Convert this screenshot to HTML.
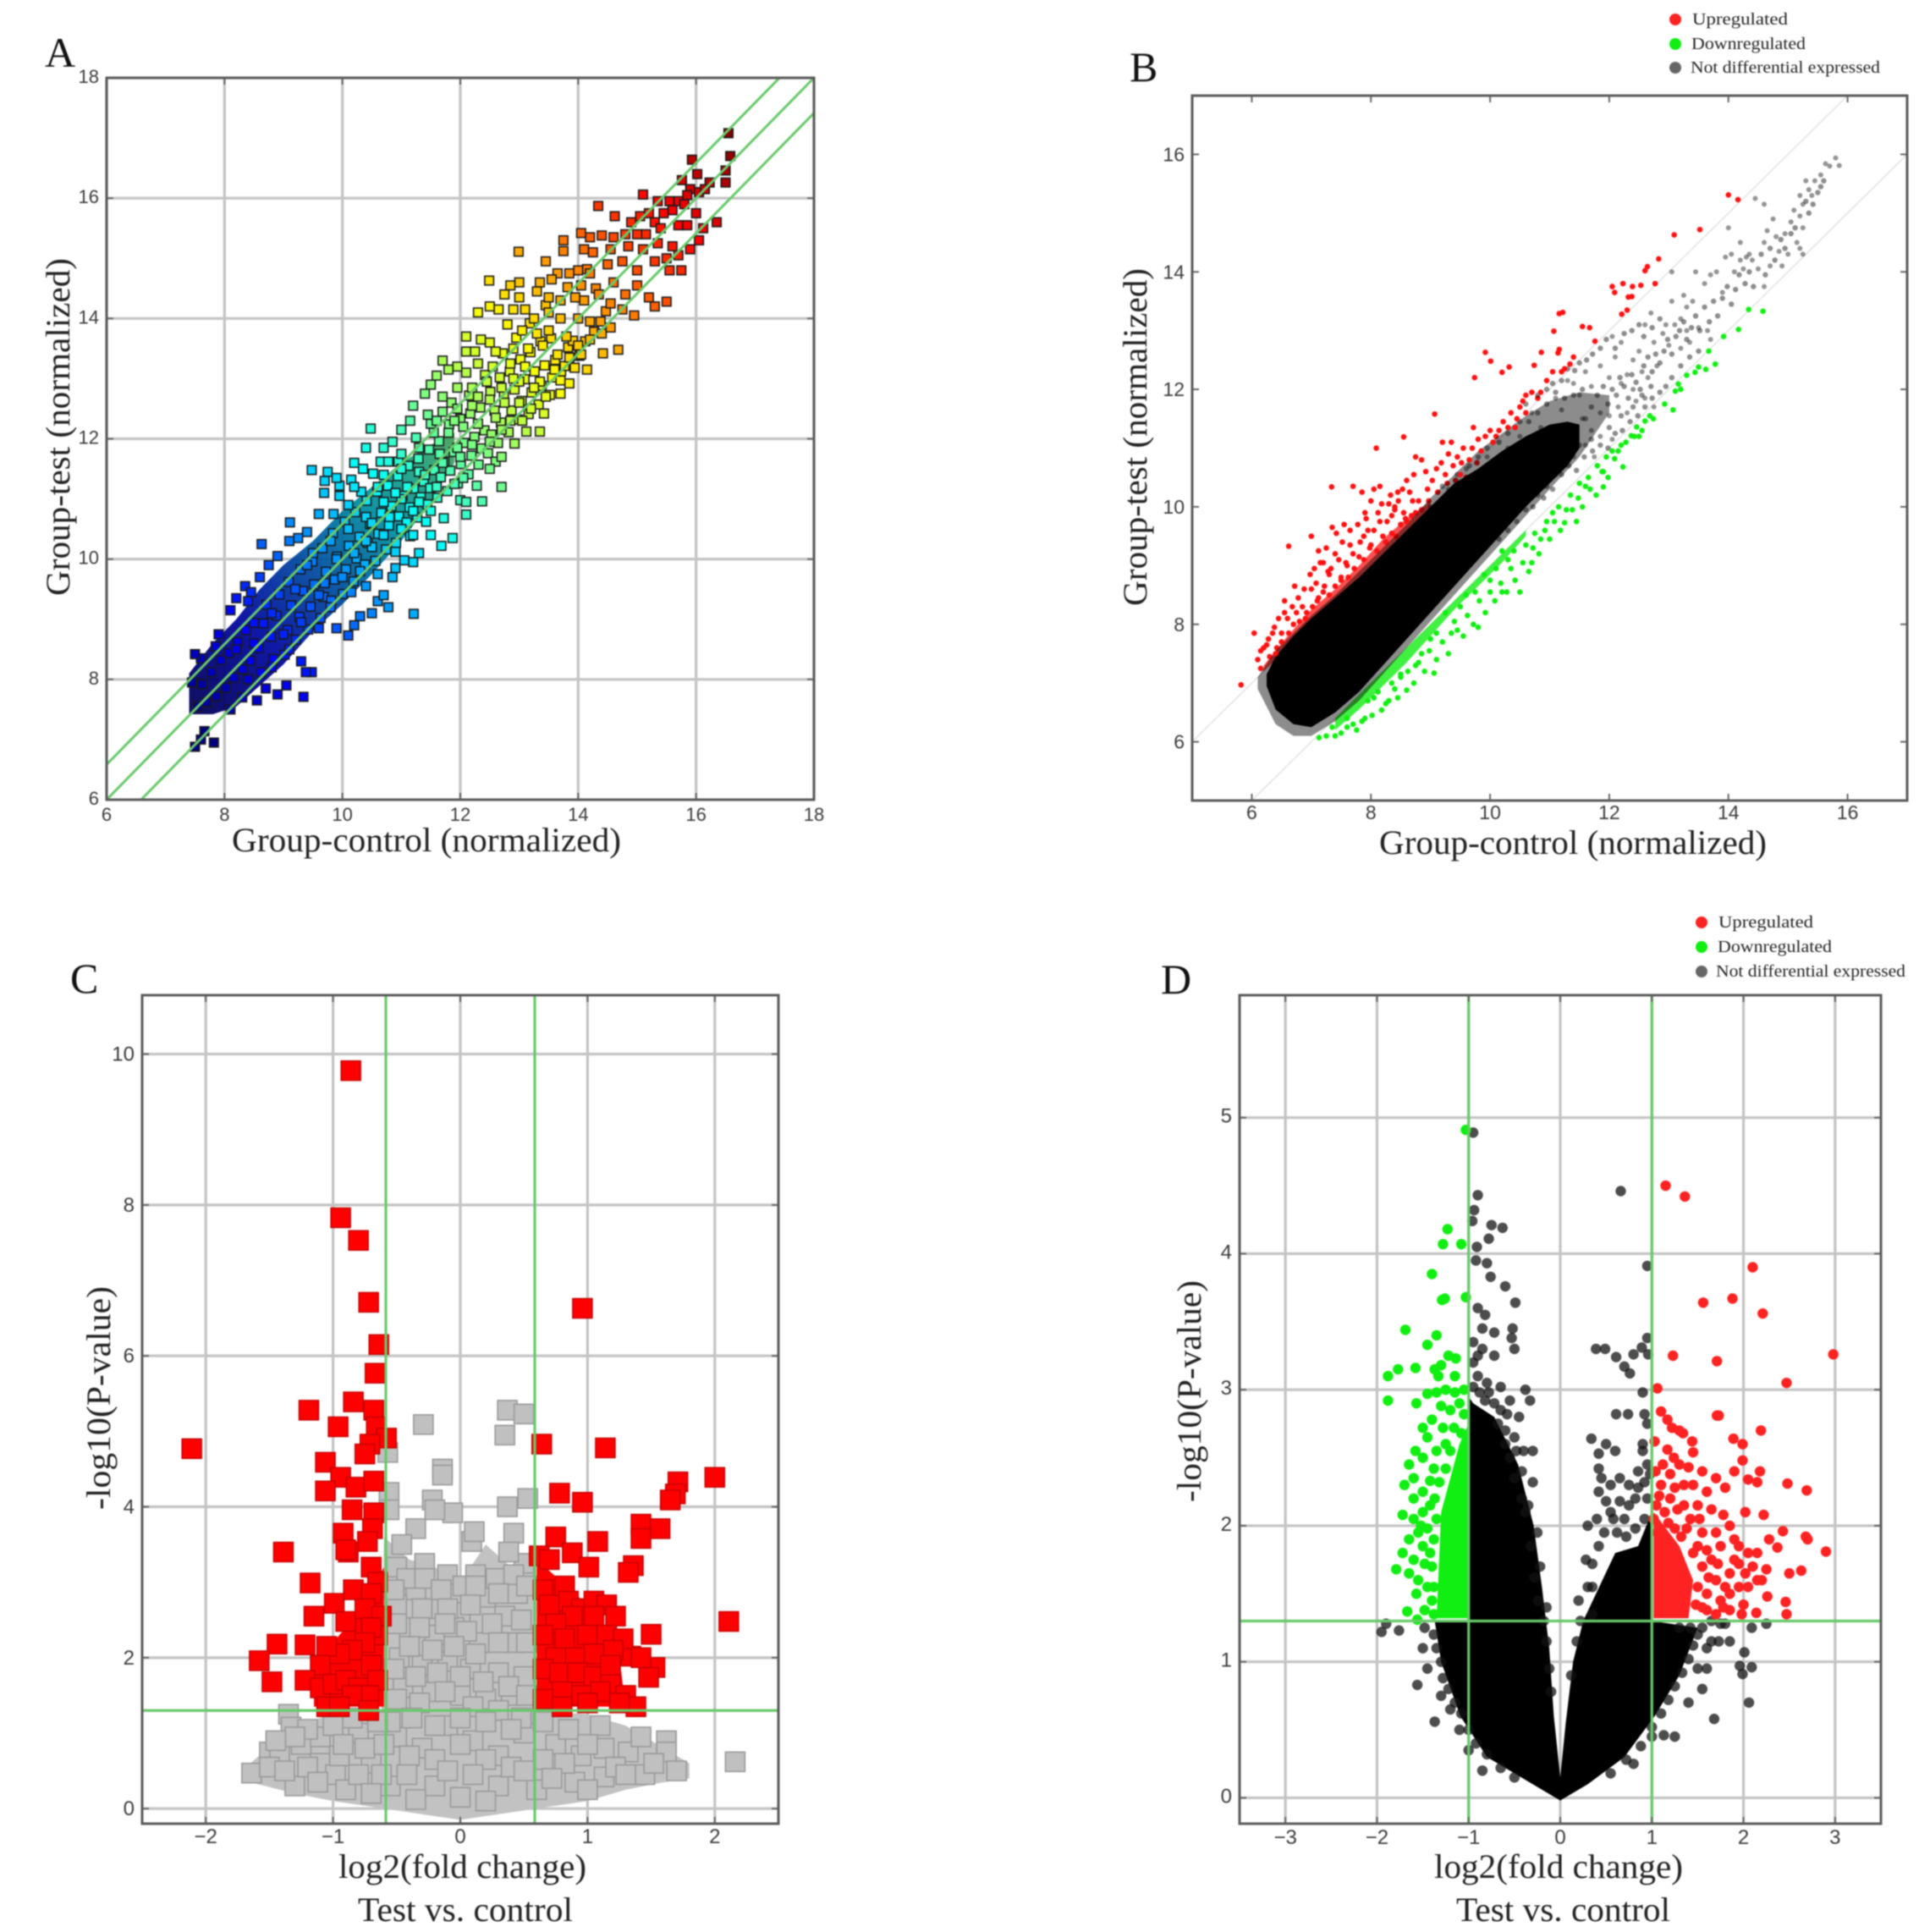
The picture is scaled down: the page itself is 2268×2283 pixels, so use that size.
<!DOCTYPE html>
<html lang="en">
<head>
<meta charset="utf-8">
<title>Scatter and volcano plots</title>
<style>
html,body{margin:0;padding:0;background:#fff;}
#figure{display:block;width:2268px;height:2283px;filter:blur(0.7px);}
.tick{font-family:"Liberation Sans",sans-serif;fill:#3a3a3a;}
.title{font-family:"Liberation Serif",serif;font-size:40px;fill:#222;}
.letter{font-family:"Liberation Serif",serif;font-size:50px;fill:#111;}
.leg{font-family:"Liberation Serif",serif;font-size:20px;fill:#222;}
</style>
</head>
<body>
<svg id="figure" xmlns="http://www.w3.org/2000/svg" width="2268" height="2283" viewBox="0 0 2268 2283">
<rect x="0" y="0" width="2268" height="2283" fill="#fff"/>

<g id="panel-a">
<text class="letter" x="53" y="79">A</text>
<text class="title" x="274" y="1006" textLength="460" lengthAdjust="spacingAndGlyphs">Group-control (normalized)</text>
<text class="title" transform="translate(82,704) rotate(-90)" textLength="399" lengthAdjust="spacingAndGlyphs">Group-test (normalized)</text>
</g>

<g id="panel-b">
<text class="letter" x="1335" y="96">B</text>
<text class="title" x="1630" y="1009" textLength="458" lengthAdjust="spacingAndGlyphs">Group-control (normalized)</text>
<text class="title" transform="translate(1355,716) rotate(-90)" textLength="399" lengthAdjust="spacingAndGlyphs">Group-test (normalized)</text>
<g>
<circle cx="1980" cy="23" r="7" fill="#f22"/>
<text class="leg" x="2000" y="29" textLength="113" lengthAdjust="spacingAndGlyphs">Upregulated</text>
<circle cx="1980" cy="52" r="7" fill="#1e1"/>
<text class="leg" x="1999" y="58" textLength="135" lengthAdjust="spacingAndGlyphs">Downregulated</text>
<circle cx="1980" cy="80" r="7" fill="#666"/>
<text class="leg" x="1998" y="86" textLength="224" lengthAdjust="spacingAndGlyphs">Not differential expressed</text>
</g>
</g>

<g id="panel-c">
<text class="letter" x="83" y="1173">C</text>
<text class="title" x="400" y="2219" textLength="293" lengthAdjust="spacingAndGlyphs">log2(fold change)</text>
<text class="title" x="423" y="2270" textLength="254" lengthAdjust="spacingAndGlyphs">Test vs. control</text>
<text class="title" transform="translate(130,1784) rotate(-90)" textLength="264" lengthAdjust="spacingAndGlyphs">-log10(P-value)</text>
</g>

<g id="panel-d">
<text class="letter" x="1372" y="1174">D</text>
<text class="title" x="1695" y="2219" textLength="294" lengthAdjust="spacingAndGlyphs">log2(fold change)</text>
<text class="title" x="1721" y="2270" textLength="253" lengthAdjust="spacingAndGlyphs">Test vs. control</text>
<text class="title" transform="translate(1419,1775) rotate(-90)" textLength="262" lengthAdjust="spacingAndGlyphs">-log10(P-value)</text>
<g>
<circle cx="2011" cy="1090" r="7" fill="#f22"/>
<text class="leg" x="2031" y="1096" textLength="112" lengthAdjust="spacingAndGlyphs">Upregulated</text>
<circle cx="2011" cy="1119" r="7" fill="#1e1"/>
<text class="leg" x="2030" y="1125" textLength="135" lengthAdjust="spacingAndGlyphs">Downregulated</text>
<circle cx="2011" cy="1148" r="7" fill="#666"/>
<text class="leg" x="2028" y="1154" textLength="224" lengthAdjust="spacingAndGlyphs">Not differential expressed</text>
</g>
</g>
</svg>

<script>
// ---------- shared tick values ----------
const aTicks=[6,8,10,12,14,16,18];
const bTicks=[6,8,10,12,14,16];
const cXTicks=[-2,-1,0,1,2];
const cYTicks=[0,2,4,6,8,10];
const dXTicks=[-3,-2,-1,0,1,2,3];
const dYTicks=[0,1,2,3,4,5];

// ---------- panel A ----------
const aFoldOffsets=[0.585,0,-0.585];
const aBandX=[7.4,7.8,8.2,8.6,9,9.5,10,10.5,11,11.5,11.9];
const aBandHi=[8.1,8.6,9,9.5,9.9,10.3,10.8,11.2,11.6,11.9,12.1];
const aBandLo=[7.42,7.42,7.55,7.9,8.25,8.8,9.25,9.75,10.3,10.95,11.6];
const aDense=[[7.55,7.55],[7.62,7.92],[7.7,7.62],[7.78,8.12],[7.86,7.72],[7.94,8.32],[8.02,7.86],[8.08,8.44],[8.16,8.03],[8.22,8.62],[8.31,8.17],[8.36,8.82],[8.44,8.31],[8.5,8.94],[8.62,8.12],[8.58,8.52],[8.66,8.93],[8.71,9.24],[8.83,8.34],[8.79,8.71],[8.88,9.06],[8.93,9.41],[9.02,8.41],[9.07,8.82],[9.13,9.23],[9.09,9.62],[9.21,8.66],[9.27,9.04],[9.33,9.47],[9.29,9.83],[9.42,8.83],[9.46,9.21],[9.52,9.58],[9.49,9.96],[9.63,9.02],[9.68,9.37],[9.72,9.79],[9.66,10.18],[9.81,9.31],[9.87,9.66],[9.91,10.04],[9.84,10.43],[10.01,9.42],[10.06,9.83],[10.11,10.22],[10.04,10.62],[10.19,9.63],[10.24,10.01],[10.29,10.37],[10.22,10.78],[10.38,9.91],[10.43,10.27],[10.47,10.58],[10.41,10.97],[10.56,9.97],[10.61,10.42],[10.66,10.77],[10.59,11.12],[10.74,10.16],[10.79,10.56],[10.83,10.88],[10.77,11.22],[10.91,10.27],[10.96,10.71],[11.02,11.05],[10.94,11.38],[11.09,10.61],[11.14,10.86],[11.21,11.17],[11.12,11.55],[11.27,10.69],[11.33,11.03],[11.38,11.29],[11.29,11.67],[11.44,10.91],[11.49,11.18],[11.56,11.48],[11.47,11.82],[11.61,11.02],[11.67,11.36],[11.73,11.62],[11.64,11.96],[11.78,11.13],[11.83,11.47],[11.89,11.78],[11.81,12.24],[11.96,11.26],[12.01,11.58],[12.07,11.93],[12,12.33],[12.14,11.41],[12.19,11.72],[12.24,12.03],[12.17,12.42],[12.31,11.57],[12.36,11.84],[12.41,12.14],[12.34,12.52],[12.47,11.76],[12.53,12.07],[12.58,12.47],[12.51,12.78],[12.64,11.93],[12.69,12.27],[12.74,12.73],[12.67,13.02],[12.82,12.11],[12.87,12.47],[12.92,12.82],[12.84,13.12],[12.98,12.32],[13.04,12.63],[13.09,12.99],[13.02,13.32],[13.16,12.41],[13.21,12.77],[13.26,13.12],[13.19,13.44],[13.33,12.57],[13.38,12.88],[13.43,13.22],[13.36,13.62],[13.52,12.73],[13.56,13.02],[13.61,13.31],[13.54,13.67],[13.71,13.12],[13.77,13.21],[13.83,13.52],[13.94,13.18],[14.02,13.38],[13.91,13.63],[14.12,13.62],[14.27,13.78],[14.38,13.95],[14.47,14.12],[10.65,11.62],[10.95,11.62],[11.25,12.02],[11.5,12.25],[11.85,12.6],[12.15,12.72],[12.42,13.06],[12.72,13.42],[12.95,13.68],[13.18,13.92],[13.45,14.22],[13.82,14.52],[14.15,14.82],[10.9,10.12],[11.15,10.38],[11.42,10.62],[11.72,10.68],[12,10.98],[12.28,11.22],[12.6,11.62],[12.92,11.92],[13.12,12.12],[13.42,12.42],[13.85,12.92],[14.15,13.15],[14.42,13.42],[9.95,11.22],[10.15,11.32],[10.32,11.12],[10.52,11.42],[10.78,11.62]];
const aPoints=[[16.55,17.08],[15.93,16.64],[16.58,16.7],[16.02,16.4],[16.5,16.46],[16.23,16.26],[16.5,16.26],[15.1,16.06],[14.34,15.87],[14.62,15.7],[16.35,15.6],[15.76,16.3],[15.9,16.15],[16.05,16.1],[15.85,16.05],[16.15,16.15],[15.7,15.95],[15.55,15.95],[15.35,15.95],[15.6,15.8],[15.8,15.9],[15.45,15.75],[15.2,15.75],[15.05,15.7],[14.9,15.6],[15.3,15.6],[15.4,15.5],[15.7,15.55],[15.85,15.55],[16,15.75],[16.12,15.5],[15.15,15.4],[15,15.4],[14.8,15.4],[14.6,15.35],[14.4,15.38],[14.2,15.35],[14.05,15.42],[13.75,15.3],[13.75,15.12],[14.1,15.15],[14.25,15.1],[14.55,15.15],[14.85,15.2],[15.1,15.15],[15.35,15.25],[15.6,15.2],[15.9,15.15],[16.05,15.3],[15.5,15],[15.7,15.05],[15.75,14.8],[15.55,14.8],[15.3,14.95],[15,14.8],[14.75,14.95],[14.5,14.9],[14.2,14.75],[14,14.8],[13.85,14.75],[13.65,14.75],[13.45,14.95],[13.55,14.65],[13.35,14.6],[14.05,14.55],[14.3,14.5],[14.6,14.6],[14.8,14.4],[15,14.55],[15.2,14.35],[15.5,14.28],[15.3,14.2],[14.95,14.05],[14.75,14.15],[14.55,14.25],[14.35,14.4],[14.1,14.3],[13.95,14.35],[13.7,14.3],[13.5,14.35],[13.3,14.45],[13,14.6],[12.85,14.55],[12.75,14.4],[13,14.35],[12.9,14.15],[13.1,14.15],[12.65,14.15],[12.3,14.1],[12.5,14.2],[12.99,15.11],[12.49,14.63],[13.25,14],[13.5,14.1],[13.7,14],[14,14],[14.2,13.95],[14.4,13.75],[14.55,13.85],[14.68,13.48],[14.2,13.65],[14,13.55],[13.8,13.7],[13.5,13.8],[13.3,13.75],[13.05,13.8],[12.8,13.9],[12.5,13.6],[12.35,13.65],[12.1,13.7],[12.1,13.45],[12.25,13.45],[12.6,13.45],[12.9,13.5],[13.15,13.5],[13.4,13.55],[13.65,13.4],[13.85,13.35],[14.05,13.4],[13.6,13.15],[13.7,12.97],[13.7,12.75],[13.35,12.95],[13.1,13.2],[12.85,13.25],[12.55,13.2],[12.3,13.25],[12.1,13.1],[11.95,13.2],[11.7,13.3],[11.8,13.15],[11.6,13.05],[11.5,12.9],[11.4,12.75],[11.7,12.7],[11.95,12.85],[12.2,12.85],[12.45,12.95],[12.7,12.85],[13,12.95],[13.25,12.85],[13.45,12.7],[13.2,12.5],[13,12.6],[12.75,12.6],[12.5,12.65],[12.2,12.55],[11.95,12.5],[11.7,12.45],[11.45,12.4],[11.2,12.55],[11.15,12.3],[11,12.15],[10.85,11.95],[10.7,11.85],[10.48,12.17],[10.4,11.85],[10.2,11.6],[11,11.75],[11.3,11.85],[11.55,12.1],[11.8,12.1],[12.05,12.2],[12.3,12.25],[12.6,12.35],[12.85,12.3],[13.05,12.3],[13.35,12.12],[12.7,12.15],[12.5,11.95],[12.2,11.9],[11.95,11.85],[11.65,11.75],[12.7,11.7],[12.5,11.5],[12.7,11.2],[12.37,10.96],[12.1,10.95],[12.1,10.74],[12.05,11.35],[11.9,11.25],[11.6,11.2],[11.3,11.45],[11,11.5],[10.7,11.4],[10.35,11.5],[10.2,11.2],[9.48,11.48],[9.75,11.45],[9.7,11.3],[9.9,11.35],[9.69,11.1],[9.95,11.05],[10.1,10.9],[9.85,10.75],[9.6,10.75],[9.4,10.45],[9.11,10.61],[9.25,10.35],[9.1,10.3],[8.9,10.05],[8.63,10.25],[8.75,9.9],[9.5,10.1],[9.8,10.3],[10.1,10.5],[10.4,10.7],[10.7,10.95],[11,11],[11.3,10.95],[11.5,10.8],[11.87,10.35],[11.68,10.22],[11.5,10.4],[11.2,10.4],[11,10.5],[10.7,10.4],[10.5,10.2],[11.3,10.1],[11.2,9.95],[11.05,9.98],[10.9,9.85],[10.85,9.7],[10.6,9.75],[10.3,9.8],[11.21,9.09],[10.78,9.2],[10.6,9.3],[10.7,9.4],[10.5,9.1],[10.3,9.05],[10.1,8.73],[10.2,8.9],[9.9,8.85],[9.6,8.85],[9.8,9.2],[10.15,9.45],[10.4,9.55],[9.48,8.12],[9.38,8.12],[9.3,8.3],[9.1,8.5],[9.34,7.71],[9.05,7.9],[8.9,7.75],[8.7,7.85],[8.55,7.65],[8.3,7.7],[8.1,7.5],[8.4,8],[8.8,8.2],[9,8.75],[9.3,8.95],[8.35,9.55],[8.45,9.45],[8.2,9.35],[8.1,9.15],[7.9,8.75],[7.85,8.55],[7.6,8.35],[7.5,8.42],[7.45,7.95],[8.6,9.7],[8.4,9.3],[7.82,6.95],[7.5,6.88],[7.66,7.14],[7.6,7],[8.5,8.6],[8.8,9.1],[9.2,9.5],[9.6,9.4],[9.9,10],[10.2,10.1],[10.5,10.6],[10.8,10.7],[11.1,11.2],[11.4,11.4],[11.7,11.6],[12,11.7],[8.2,8.5],[9.4,9.9],[10,9.7],[10.4,10.3],[10.9,11.1],[11.2,10.8],[11.6,12.3],[12.3,12.7],[12.9,13],[11.9,12.3],[10.6,11.2],[9.7,9.6]];

// ---------- panel B ----------
const bCoreX=[6.25,6.4,6.7,7,7.4,7.8,8.2,8.6,9,9.4,9.8,10.2,10.6,11,11.3,11.5];
const bCoreLo=[6.95,6.55,6.3,6.25,6.5,6.85,7.3,7.75,8.2,8.65,9.1,9.55,10,10.4,10.7,11];
const bCoreHi=[7.15,7.45,7.8,8.1,8.45,8.8,9.2,9.6,10,10.4,10.65,10.95,11.2,11.4,11.45,11.4];
const bHaloX=[6.1,6.4,6.7,7,7.4,7.8,8.2,8.6,9,9.4,9.8,10.2,10.6,11,11.5,12];
const bHaloLo=[6.9,6.3,6.1,6.1,6.35,6.7,7.15,7.6,8.05,8.5,8.95,9.4,9.85,10.3,10.85,11.6];
const bHaloHi=[7.1,7.55,7.85,8.15,8.5,8.9,9.3,9.7,10.15,10.55,10.95,11.25,11.55,11.8,11.95,11.9];
const bRedBandX=[6.2,6.6,7,7.4,7.8,8.2,8.6,9];
const bRedBandLo=[7.2,7.6,8,8.4,8.8,9.2,9.6,10];
const bRedBandHi=[7.3,7.8,8.25,8.6,9,9.45,9.8,10.1];
const bGreenBandX=[7.4,7.8,8.2,8.6,9,9.4,9.8,10.2,10.6];
const bGreenBandLo=[6.2,6.55,6.95,7.35,7.8,8.25,8.65,9.05,9.5];
const bGreenBandHi=[6.4,6.8,7.2,7.6,8,8.4,8.8,9.2,9.6];
const bUpDense=[[6.15,7.25],[6.2,7.6],[6.28,7.75],[6.3,7.45],[6.38,7.95],[6.42,7.6],[6.5,7.85],[6.55,8.2],[6.62,7.85],[6.68,8.3],[6.7,8],[6.78,8.45],[6.8,8.05],[6.88,8.6],[6.92,8.2],[6.98,8.85],[7.02,8.3],[7.08,8.7],[7.12,8.45],[7.15,9.05],[7.22,8.65],[7.25,9.3],[7.3,8.5],[7.33,8.95],[7.4,8.65],[7.42,9.55],[7.46,9.1],[7.5,8.8],[7.52,9.4],[7.58,9.05],[7.62,8.8],[7.65,9.6],[7.7,9.2],[7.72,8.95],[7.78,9.7],[7.82,9.4],[7.88,9.1],[7.92,9.8],[7.98,9.3],[8,10.1],[8.05,9.6],[8.1,9.25],[8.12,9.9],[8.18,10.05],[8.25,9.4],[8.27,9.75],[8.33,10.2],[8.35,9.85],[8.42,9.5],[8.46,10.1],[8.5,9.7],[8.53,10.3],[8.58,9.8],[8.65,10.25],[8.68,9.85],[8.72,10.55],[8.8,10.1],[8.85,9.95],[8.92,10.6],[8.97,10.1],[9.03,10.45],[9.12,10.25],[9.18,10.75],[9.28,10.4],[9.38,10.7],[9.42,10.45],[9.52,10.75],[9.6,10.5],[9.7,11],[9.78,10.75],[9.92,11.2],[10.1,11.2],[10.22,11.45],[10.35,11.6],[10.6,11.9],[10.8,11.85],[7.28,8.9],[7.88,9.5],[8.4,9.95],[8.75,9.9]];
const bDownDense=[[7.25,6.1],[7.35,6.25],[7.5,6.15],[7.6,6.4],[7.7,6.3],[7.85,6.35],[7.95,6.7],[8.02,6.45],[8.12,6.85],[8.25,6.65],[8.35,7],[8.45,6.75],[8.5,7.1],[8.62,7.2],[8.72,7],[8.8,7.35],[8.9,7.2],[8.98,7.55],[9.1,7.4],[9.2,7.7],[9.3,7.5],[9.35,7.85],[9.45,7.9],[9.55,7.8],[9.62,8.15],[9.72,8],[9.82,8.4],[9.92,8.2],[10,8.55],[10.08,8.4],[10.18,8.7],[10.28,8.55],[10.35,8.95],[10.42,8.75],[10.55,9.05],[10.65,8.9],[10.72,9.3],[10.82,9.2],[10.92,9.6],[11,9.45],[11.08,9.75],[11.18,9.6],[11.28,9.95],[11.38,9.95],[11.48,10.15],[11.55,10],[11.68,10.3],[11.78,10.2],[11.88,10.6],[11.98,10.5],[12.15,10.95],[12.28,11.1],[12.42,11.2],[12.55,11.3],[12.68,11.55]];
const bNotDense=[[10.6,11.75],[10.8,11.9],[10.95,12],[11.05,12.1],[11.2,12.15],[11.3,12.35],[11.42,12.32],[11.5,12.45],[11.62,12.5],[11.72,12.6],[11.85,12.7],[11.95,12.85],[12.1,12.7],[12.25,12.95],[12.38,13],[12.5,13.1],[12.58,12.9],[12.72,13.05],[12.85,13.2],[10.72,10.0],[10.9,10.15],[11.05,10.3],[11.2,10.55],[11.32,10.7],[11.45,10.62],[11.58,10.85],[11.72,10.95],[11.85,11.05],[11.98,11.0],[12.1,11.25],[12.22,11.3],[12.35,11.45],[12.48,11.55],[12.6,11.7],[12.72,11.85],[12.85,11.95],[12.95,12.05],[13.05,12.2],[13.2,12.4],[13.35,12.55],[13.5,12.65],[11.6,11.5],[11.7,11.7],[11.8,11.9],[11.9,12.05],[11.98,11.75],[12.05,12],[12.12,11.9],[12.18,12.2],[12.25,12.05],[12.32,11.85],[12.38,12.25],[12.45,12.12],[12.52,12],[12.58,12.4],[12.65,12.55],[12.72,12.3],[12.78,12.6],[12.85,12.45],[12.92,12.65],[12.98,12.85],[13.05,12.6],[13.12,12.9],[13.18,13],[13.25,13.15],[13.3,12.85],[13.38,13.05],[13.45,13.25],[13.52,13],[13.6,13.4],[13.68,13.15],[13.75,13.5],[13.82,13.25],[13.9,13.55],[13.98,13.75],[14.05,13.45],[14.12,13.7],[14.18,13.95],[14.28,13.8],[14.35,14],[14.42,13.75],[14.55,14.3],[14.62,13.95],[14.7,14.4],[14.78,14.2],[14.88,14.55],[14.95,14.4],[15.05,14.65],[15.12,14.75],[15.3,15.2],[15.35,15],[15.42,15.15],[15.5,15.35],[15.55,15.45],[15.6,15.55],[11.55,12],[11.4,11.9],[11.25,11.85],[11.1,11.95],[10.95,11.75],[10.8,11.6],[10.65,11.45],[10.5,11.45],[10.3,11.25],[10.15,11.1],[9.95,11],[9.8,10.85],[9.65,10.7],[9.45,10.55],[9.2,10.35],[11.7,11.15],[11.5,11.05],[11.3,10.85],[11.1,10.55],[10.95,10.35],[10.8,10.2],[10.6,9.95],[10.45,9.75],[10.3,9.6],[10.15,9.45],[12,11.35],[12.2,11.55],[12.4,11.7],[12.55,11.9],[12.7,12.05]];
const bUp=[[5.82,6.97],[6.04,7.85],[6.62,9.33],[7.34,10.34],[8.09,11],[8.55,11.19],[9.07,11.58],[9.92,12.63],[10.01,12.48],[9.74,12.2],[10.2,12.29],[10.32,12.38],[10.86,12.63],[10.74,12.41],[11.07,12.99],[11.16,13.29],[11.22,13.31],[11.55,13.07],[11.67,13.05],[11.76,12.82],[11.16,12.68],[11.14,12.62],[11.34,12.43],[11.2,12.3],[12.05,13.75],[12.09,13.65],[12.23,13.8],[12.39,13.75],[12.53,13.77],[12.77,13.8],[12.32,13.57],[12.38,13.58],[12.21,13.28],[12.3,13.35],[12.6,14.02],[12.64,14.09],[12.83,14.22],[13.09,14.63],[13.52,14.72],[14,15.31],[14.16,15.23],[6.1,7.4],[6.15,7.55],[6.25,7.65],[6.35,7.85],[6.45,8.1],[6.6,8.1],[6.55,8.4],[6.75,8.2],[6.72,8.65],[6.85,8.3],[7,8.6],[7,9.5],[7.12,9.25],[7.05,8.95],[7.2,9.05],[7.2,8.55],[7.3,8.85],[7.4,9.2],[7.35,9.65],[7.55,9.7],[7.65,9.35],[7.7,10.35],[7.85,10.25],[7.9,9.9],[8.05,10.3],[8.15,10.35],[7.95,9.6],[8.15,9.75],[8.3,10.05],[8.4,10],[8.45,10.25],[8.2,9.5],[8.55,9.9],[8.6,10.45],[8.75,10.85],[8.85,10.8],[8.7,10.1],[8.95,10.3],[9.1,10.65],[9.2,11.1],[9.3,10.9],[9.35,11.1],[9.25,10.55],[9.45,10.85],[9.5,10.55],[9.55,11],[9.65,10.8],[9.8,11.15],[9.85,10.95],[9.72,11.35],[10,11.3],[10.15,11.3],[10.3,11.35],[10.05,11.1],[10.45,11.5],[10.5,11.7],[10.55,11.8],[10.42,11.35],[10.7,11.95],[10.85,11.95],[10.95,12.15],[10.6,11.6],[11.05,12.3],[11.25,12.35],[11.4,12.55],[6.4,7.5],[6.9,8.1],[7.5,8.75],[8,9.35],[8.35,9.55],[8.6,9.75],[7.1,8.4],[7.6,9],[7.8,9.15],[6.5,7.7]];
const bDown=[[14.58,13.33],[14.34,13.36],[14.17,13.02],[13.92,12.9],[13.78,12.43],[13.62,12.34],[13.5,12.38],[13.67,12.65],[13.44,12.29],[13.3,12.24],[13.16,12.09],[13.11,11.97],[13.2,12],[12.93,11.75],[13.07,11.65],[12.74,11.5],[12.6,11.46],[12.46,11.36],[12.37,11.21],[12.23,10.68],[12.09,10.82],[11.9,10.34],[11.6,10.35],[11.25,9.73],[10.5,8.55],[9.8,7.95],[9.06,7.17],[8.6,6.88],[8.18,6.54],[7.76,6.2],[7.13,6.07],[12.2,11.05],[12.05,10.95],[11.95,10.85],[11.8,10.7],[11.65,10.5],[11.5,10.4],[11.35,10.2],[11.15,10],[11.05,9.9],[10.95,9.75],[10.75,9.55],[10.85,9.45],[10.6,9.35],[10.4,9.25],[10.3,9.1],[10.2,9.25],[10.1,8.95],[10,8.75],[9.9,8.85],[9.75,8.55],[9.6,8.5],[9.5,8.3],[9.4,8.05],[9.25,8.2],[9.1,7.85],[9,7.75],[8.85,7.5],[8.75,7.3],[8.5,7.15],[8.4,6.9],[8.3,6.7],[8.05,6.75],[7.9,6.4],[7.6,6.25],[7.4,6.1],[11.45,9.75],[11.9,10.6],[12.5,11.2],[10.7,9.05],[10.2,8.55]];
const bNot=[[15.86,15.81],[15.8,15.94],[15.63,15.84],[15.7,15.8],[15.55,15.65],[15.45,15.55],[15.35,15.4],[15.3,15.55],[15.2,15.3],[15.1,15.05],[15.25,15.15],[15.4,15.3],[15.2,14.95],[15.25,14.75],[15.15,14.5],[15.2,14.4],[15.25,14.3],[14.95,14.65],[14.8,14.6],[14.65,14.7],[14.85,14.35],[14.9,14.1],[14.7,14.1],[14.5,14.05],[14.6,13.75],[14.4,14.2],[14.3,14.25],[14.2,14.5],[14,14.75],[14.45,15.25],[14.6,15.15],[14.75,14.9],[15.05,14.85],[14.1,14],[13.9,13.65],[13.8,14],[13.7,13.95],[13.6,13.8],[13.45,14],[13.4,13.5],[13.3,13.4],[13.2,13.2],[13.25,13.6],[13.05,13.5],[13.05,14],[13.1,13.1],[12.95,13.1],[12.9,12.95],[13,12.75],[12.75,12.8],[13.65,13],[13.5,13.05],[13.7,12.85],[13.35,12.8],[13.2,12.7],[13.3,13],[12.7,13.3],[12.6,13.1],[12.5,12.65],[12.4,12.5],[12.55,12.3],[12.2,12.8],[12.1,12.55],[12.05,12.9],[12,12.2],[12.2,12.1],[12.3,12.25],[12.4,12],[12.65,12.2],[12.8,12.4],[12.6,11.85],[12.75,11.7],[12.45,11.8],[12.3,11.6],[12.15,11.7],[12,11.55],[11.85,11.6],[11.85,12.4],[11.7,12.05],[11.6,12.3],[11.5,11.9],[11.55,11.5],[11.7,11.3],[11.4,12.1],[11.3,12.15],[11.2,11.65],[11.1,11.85],[11.35,11.25],[11.6,11.05],[11.85,11.2],[12.05,11.15],[11.15,10.75],[10.9,10.6],[11.4,10.85],[10.7,11.6],[10.85,11.35],[10.5,11.2],[10.3,11],[9.95,10.85],[9.6,10.65],[9.3,10.3],[9,10],[11.75,10.85],[14.2,14.2],[14.35,14.3],[14.25,14.05],[14.05,14.3],[13.95,14.25],[15,14.3],[14.6,14.5]];

// ---------- panel C ----------
const cGreyOutlineX=[-1.65,-1.3,-1,-0.62,-0.6,-0.4,-0.2,0,0.2,0.4,0.58,0.6,1,1.3,1.6,1.8,1.8,1.6,1.3,1,0.6,0,-0.6,-1,-1.3,-1.65];
const cGreyOutlineY=[0.6,1.1,1.25,1.3,3.6,3.3,3.2,3,3.5,3.2,3.3,1.3,1.25,1.1,0.8,0.6,0.4,0.35,0.25,0.1,0,-0.15,0,0.1,0.2,0.35];
const cRedLeftX=[-1.15,-0.6,-0.6,-0.8,-1.15];
const cRedLeftY=[1.35,1.35,3.2,2.6,1.9];
const cRedRightX=[0.6,1.3,1.25,1,0.8,0.6];
const cRedRightY=[1.35,1.35,2,2.7,3,3.3];
const cUp=[[-0.86,9.78],[-0.94,7.83],[-0.8,7.53],[-0.72,6.71],[-0.64,6.15],[-0.67,5.77],[-0.84,5.39],[-1.19,5.28],[-0.68,5.28],[-0.66,5.06],[-0.96,5.06],[-0.58,4.91],[-2.11,4.77],[-0.71,4.83],[-0.75,4.7],[-1.06,4.59],[-0.94,4.39],[-1.06,4.21],[-0.82,4.26],[-0.68,4.34],[-0.85,3.96],[-0.68,3.92],[-0.69,3.71],[-0.92,3.65],[-0.73,3.54],[-0.88,3.4],[-1.39,3.4],[-0.7,3.2],[-1.18,2.99],[-0.9,3.43],[-0.65,3],[-0.65,2.3],[0.96,6.63],[0.64,4.83],[1.14,4.78],[0.78,4.18],[0.96,4.06],[2,4.39],[1.71,4.33],[1.69,4.17],[1.65,4.09],[1.42,3.77],[1.57,3.71],[1.42,3.58],[1.08,3.54],[0.75,3.6],[0.88,3.39],[1.36,3.22],[1.32,3.13],[1.01,3.2],[2.11,2.48],[1.5,2.31],[1.53,1.87],[1.48,1.74],[1.34,2.02],[-1.44,2.18],[-1.58,1.96],[-1.48,1.68],[-1.15,2.55],[-1.22,2.17],[-0.99,2.72],[-0.9,2.48],[-0.84,2.9],[-0.7,2.85],[-0.75,2.65],[-0.62,2.55],[-0.7,2.4],[-0.75,2.2],[-0.85,2.1],[-0.95,2.05],[-1.05,2.15],[-1.1,1.9],[-1.22,1.7],[-1.1,1.6],[-1,1.65],[-0.9,1.7],[-0.8,1.6],[-0.7,1.9],[-0.65,1.7],[-0.72,1.5],[-0.85,1.5],[-1.05,1.35],[-0.95,1.35],[-0.72,1.3],[0.62,3.35],[0.7,3.3],[0.65,2.9],[0.7,2.7],[0.82,2.95],[0.85,2.75],[0.95,2.65],[1.05,2.75],[1.15,2.7],[1.22,2.55],[1.05,2.55],[0.88,2.55],[0.75,2.45],[0.65,2.3],[0.82,2.25],[1,2.3],[1.15,2.3],[1.28,2.25],[1.2,2.1],[1.05,2.05],[0.9,2],[0.75,2],[0.65,1.85],[0.78,1.8],[0.92,1.8],[1.05,1.75],[1.18,1.65],[1.3,1.5],[1.38,1.35],[1.25,1.4],[1.1,1.55],[0.95,1.5],[0.8,1.55],[0.65,1.45],[0.8,1.35],[1,1.4],[1.42,2],[1.18,1.9]];
const cNot=[[0.37,5.28],[0.5,5.23],[0.35,4.95],[-0.29,5.09],[-0.14,4.5],[-0.14,4.42],[-0.57,4.72],[0.37,4],[0.53,4.11],[0.42,3.65],[-0.06,3.92],[-0.22,4.09],[-0.2,3.96],[-0.56,4.19],[-0.56,3.96],[-0.35,3.71],[-0.46,3.5],[0.09,3.54],[0.11,3.67],[2.16,0.62],[-1.64,0.47],[-0.28,3.25],[-0.1,3.1],[0.12,3.1],[0.5,3.25],[0.38,3.4],[0.45,2.85],[-0.35,2.9],[-0.5,2.7],[-0.2,2.65],[0,2.6],[0.2,2.8],[0.35,2.55],[-0.4,2.4],[-0.2,2.3],[-0.05,2.4],[0.15,2.2],[0.42,2.2],[-0.48,2],[-0.3,1.9],[-0.1,1.95],[0.08,1.85],[0.3,1.8],[0.5,1.75],[-0.45,1.6],[-0.22,1.55],[0,1.5],[0.2,1.45],[0.4,1.5],[-1.35,1.25],[-1.33,1.08],[-1.5,0.75],[-1.42,0.72],[-1.25,0.85],[-1.1,0.95],[-1.1,0.6],[-0.98,0.45],[-0.95,0.7],[-0.8,1],[-0.7,0.6],[-0.5,0.95],[-0.3,0.8],[-0.1,1.1],[0.1,0.9],[0.3,0.7],[0.5,1],[0.75,0.85],[0.95,0.7],[1.1,1.1],[1.13,0.8],[1.13,0.42],[1.32,0.75],[1.42,0.95],[1.62,0.9],[1.62,0.75],[1.7,0.5],[1.45,0.45],[-0.55,0.3],[-0.2,0.3],[0,0.15],[0.3,0.3],[0.6,0.25],[0.9,0.35],[-0.9,0.25],[-1.3,0.3],[-1.2,0.55],[-0.5,3.2],[-0.42,3.05],[-0.52,2.9],[-0.28,3.05],[-0.15,2.9],[0.02,2.95],[0.12,2.95],[0.28,3.05],[0.42,3.1],[0.52,2.95],[0.3,2.85],[0.08,2.7],[-0.1,2.65],[-0.3,2.65],[-0.5,2.45],[-0.32,2.4],[-0.12,2.45],[0.05,2.35],[0.25,2.45],[0.48,2.5],[0.52,2.2],[0.3,2.2],[0.12,2.05],[-0.05,2.15],[-0.22,2.1],[-0.4,2.15],[-0.52,1.85],[-0.35,1.75],[-0.18,1.8],[0,1.75],[0.18,1.68],[0.38,1.62],[0.52,1.5],[-0.5,1.45],[-0.32,1.4],[-0.12,1.55],[0.1,1.35],[0.3,1.3],[0.48,1.2],[-0.55,1.15],[-0.38,1.2],[-0.2,1.1],[0,1.2],[0.2,1.15],[0.4,1.05],[0.65,1.15],[0.85,1.05],[-0.65,1.15],[-0.85,1.2],[-1,1.1],[-1.2,1.05],[-1.3,0.95],[-1.45,0.9],[-0.92,0.85],[-0.75,0.8],[-0.6,0.85],[-0.4,0.7],[-0.2,0.65],[0,0.85],[0.2,0.65],[0.4,0.55],[0.65,0.65],[0.82,0.6],[1,0.85],[1.22,0.55],[1.3,0.45],[1.52,0.6],[-1.5,0.55],[-1.38,0.5],[-1.12,0.35],[-0.8,0.45],[-0.62,0.45],[-0.42,0.45],[-0.1,0.5],[0.1,0.45],[0.5,0.5],[0.72,0.4],[1,0.25],[0.2,0.1],[-0.35,0.12],[-0.7,0.2]];

// ---------- panel D ----------
const dLeftWingX=[0,-0.3,-0.8,-1.09,-1.3,-1.37,-1,-1,-0.95,-0.72,-0.46,-0.29,-0.2,-0.12,-0.07,0];
const dLeftWingY=[-0.02,0.1,0.3,0.6,1,1.3,1.3,2.95,2.9,2.8,2.45,2,1.55,1.1,0.6,0.15];
const dRightWingX=[0,0.3,0.7,1.03,1.3,1.5,1,1,0.85,0.6,0.25,0.14,0.06,0];
const dRightWingY=[-0.02,0.1,0.3,0.6,0.9,1.25,1.3,2.1,1.85,1.8,1.3,1,0.55,0.15];
const dGreenBandX=[-1.35,-1,-1,-1.1,-1.3];
const dGreenBandY=[1.32,1.32,2.75,2.6,2.1];
const dRedBandX=[1.02,1.4,1.45,1.3,1.02];
const dRedBandY=[1.32,1.32,1.6,1.85,2.1];
const dUp=[[1.15,4.5],[1.36,4.42],[2.1,3.9],[1.56,3.64],[1.88,3.67],[2.21,3.56],[2.98,3.26],[1.23,3.25],[1.71,3.21],[2.47,3.05],[1.06,3.01],[1.71,2.81],[1.73,2.81],[2.19,2.7],[1.89,2.64],[1.99,2.6],[2.48,2.31],[2.69,2.26],[2.22,2.08],[2.43,1.96],[2.28,1.9],[2.68,1.92],[2.7,1.9],[2.9,1.81],[2.37,1.84],[2.5,1.65],[2.63,1.67],[2.46,1.44],[2.47,1.35],[2.26,1.48],[2.14,1.36],[1.1,2.84],[1.17,2.78],[1.22,2.72],[1.3,2.7],[1.34,2.68],[1.44,2.62],[1.03,2.62],[1.17,2.56],[1.45,2.54],[1.3,2.45],[1.12,2.45],[1.24,2.5],[1.4,2.43],[1.55,2.4],[1.7,2.35],[1.99,2.48],[1.9,2.4],[2.18,2.4],[2.05,2.34],[2.15,2.32],[1.8,2.28],[1.6,2.25],[1.45,2.3],[1.25,2.28],[1.1,2.3],[1.05,2.15],[1.2,2.2],[1.35,2.15],[1.5,2.15],[1.65,2.12],[1.78,2.08],[2.02,2.1],[1.85,2],[1.7,1.95],[1.55,1.95],[1.38,1.98],[1.9,1.9],[1.95,1.85],[2.15,1.8],[2.05,1.8],[1.75,1.85],[1.95,1.72],[2.1,1.7],[1.85,1.65],[1.7,1.6],[1.55,1.7],[1.95,1.55],[2.05,1.55],[2.15,1.6],[1.85,1.5],[1.75,1.45],[1.6,1.5],[1.85,1.38],[2,1.42],[1.7,1.35],[1.55,1.4],[1.98,1.35],[2.25,1.68],[2.2,1.6],[1.3,1.75],[1.45,1.8],[1.04,2.4],[1.08,2.22],[1.14,2.1],[1.2,2.38],[1.28,2.12],[1.32,1.92],[1.42,2.05],[1.5,1.85],[1.6,1.82],[1.62,1.62],[1.5,1.55],[1.48,1.42],[1.6,1.38],[1.65,1.75],[1.35,2.3],[1.06,1.95],[1.18,2.02],[1.52,2.05],[1.72,1.72],[1.8,1.55],[1.78,1.4],[1.9,1.75],[2.02,1.65],[1.02,2.05],[1.25,1.98]];
const dDown=[[-1.03,4.91],[-1.23,4.18],[-1.28,4.07],[-1.08,4.07],[-1.4,3.85],[-1.26,3.67],[-1.29,3.66],[-1.03,3.68],[-1.69,3.44],[-1.45,3.33],[-1.35,3.4],[-1.77,3.15],[-1.88,3.1],[-1.58,3.16],[-1.88,2.92],[-1.79,1.68],[-1.67,1.37],[-1.56,1.31],[-1.22,3.25],[-1.14,3.23],[-1.3,3.18],[-1.37,3.15],[-1.33,3.1],[-1.15,3.1],[-1.05,3],[-1.35,2.98],[-1.45,2.97],[-1.57,2.9],[-1.3,2.88],[-1.2,2.85],[-1.4,2.78],[-1.5,2.72],[-1.45,2.65],[-1.58,2.55],[-1.5,2.5],[-1.65,2.45],[-1.6,2.35],[-1.35,2.55],[-1.25,2.6],[-1.7,2.3],[-1.6,2.2],[-1.5,2.25],[-1.42,2.33],[-1.72,2.08],[-1.6,2.05],[-1.5,2.1],[-1.42,2.15],[-1.65,1.9],[-1.55,1.95],[-1.45,1.98],[-1.72,1.8],[-1.6,1.75],[-1.5,1.85],[-1.42,1.8],[-1.65,1.65],[-1.55,1.6],[-1.45,1.55],[-1.57,1.5],[-1.4,1.45],[-1.48,1.38],[-1.38,1.35],[-1.1,2.9],[-1.05,2.82],[-1.16,2.72],[-1.08,2.68],[-1.2,2.55],[-1.25,2.42],[-1.32,2.32],[-1.37,2.2],[-1.35,2.05],[-1.38,1.9],[-1.4,1.7],[-1.38,1.55],[-1.48,1.72],[-1.52,2],[-1.38,2.42],[-1.28,2.72],[-1.15,2.98],[-1.25,3.0]];
const dNot=[[-0.95,4.89],[-0.9,4.43],[-0.94,4.32],[-0.75,4.21],[-0.63,4.19],[-0.96,4.24],[-0.78,4.11],[-0.91,4.05],[-0.92,3.95],[-0.8,3.93],[-0.76,3.83],[-0.6,3.76],[-0.49,3.64],[0.66,4.46],[0.95,3.91],[0.39,3.3],[0.49,3.3],[0.61,3.24],[0.7,3.17],[0.76,3.12],[0.8,3.26],[0.89,3.31],[0.95,3.38],[0.96,3.26],[0.9,2.98],[0.61,2.82],[0.74,2.82],[0.34,2.64],[0.42,2.53],[-1.95,1.22],[-1.9,1.28],[-1.76,1.23],[-1.56,0.83],[-1.37,0.56],[1.68,0.58],[2.06,0.7],[2.01,1.07],[1.96,0.97],[2.09,0.96],[1.99,0.91],[2.09,1.25],[2.25,1.28],[-0.9,3.6],[-0.82,3.55],[-0.85,3.45],[-0.72,3.42],[-0.52,3.45],[-0.53,3.38],[-0.5,3.3],[-0.72,3.25],[-0.85,3.3],[-0.95,3.2],[-0.9,3.1],[-0.8,3.05],[-0.65,3.02],[-0.38,3],[-0.33,2.92],[-0.55,2.92],[-0.45,2.8],[-0.6,2.7],[-0.5,2.65],[-0.3,2.55],[-0.42,2.4],[-0.3,2.32],[-0.35,2.15],[-0.25,1.95],[-0.22,1.7],[-0.15,1.4],[0.92,2.82],[0.95,2.75],[0.9,2.6],[0.5,2.6],[0.42,2.42],[0.42,2.25],[0.5,2.18],[0.65,2.35],[0.75,2.3],[0.85,2.4],[0.95,2.45],[0.55,2.1],[0.4,2.05],[0.3,2],[0.7,2.05],[0.82,2.2],[0.95,2.2],[0.28,1.75],[0.2,1.45],[0.35,1.55],[1.25,0.45],[1.13,0.46],[1.5,0.95],[1.6,1.1],[1.73,1.15],[1.75,1.28],[1.85,1.15],[1.4,0.7],[1.55,0.8],[-1.5,1.1],[-1.45,0.95],[-1.3,0.75],[-1.2,0.65],[-1.1,0.5],[-1,0.35],[-1.48,1.25],[-0.85,0.2],[1,0.45],[0.8,0.25],[1.3,1.25],[1.55,1.25],[1.65,1.3],[-0.72,2.9],[-0.68,2.75],[-0.6,2.6],[-0.55,2.5],[-0.5,2.35],[-0.42,2.2],[-0.38,2.1],[-0.32,1.85],[-0.28,1.62],[-0.24,1.45],[-0.18,1.3],[-0.15,1.15],[-0.12,0.95],[-0.1,0.78],[-0.95,3.02],[-0.88,2.98],[-0.82,2.92],[-0.78,2.98],[-0.95,3.35],[-0.9,3.25],[-0.65,2.85],[-0.58,2.82],[-0.48,2.55],[-0.4,2.55],[-1.38,1.2],[-1.35,1.1],[-1.3,1],[-1.28,0.88],[-1.22,0.8],[-1.15,0.7],[-1.08,0.62],[-1,0.5],[-0.92,0.4],[-0.8,0.32],[-0.65,0.22],[-0.5,0.15],[1.5,1.2],[1.45,1.12],[1.4,1.02],[1.33,0.92],[1.25,0.82],[1.18,0.72],[1.1,0.62],[1,0.52],[0.88,0.38],[0.72,0.28],[0.55,0.18],[0.98,2.38],[0.92,2.32],[0.85,2.28],[0.75,2.15],[0.65,2.18],[0.58,2.05],[0.62,1.95],[0.72,1.92],[0.82,1.98],[0.92,2.05],[0.48,1.95],[0.42,1.85],[0.35,1.72],[0.3,1.55],[0.22,1.3],[0.18,1.15],[0.12,0.9],[0.55,2.3],[0.6,2.55],[0.45,2.35],[0.9,2.55],[0.35,1.35],[1.65,1.15],[1.6,0.95],[1.8,1.28],[1.42,1.25]];

// ---------- drawing ----------
const SVGNS='http://www.w3.org/2000/svg';
function scale(d0,d1,r0,r1){return function(v){return r0+(v-d0)/(d1-d0)*(r1-r0);};}
function make(tag,parent,attrs){
  const el=document.createElementNS(SVGNS,tag);
  for(const k in attrs){el.setAttribute(k,attrs[k]);}
  parent.appendChild(el);
  return el;
}
function drawFrame(root,box,sx,sy,xt,yt,grid,tickBaseline,yShift,fontSize,namePrefix){
  if(grid){
    xt.forEach(function(v){
      const l=make('line',root,{x1:sx(v),x2:sx(v),y1:box.t,y2:box.b,stroke:'#c3c3c3','stroke-width':3.2});
      
      
    });
    yt.forEach(function(v){
      const l=make('line',root,{x1:box.l,x2:box.r,y1:sy(v),y2:sy(v),stroke:'#c3c3c3','stroke-width':3.2});
      
      
    });
  }
  xt.forEach(function(v){
    const t=make('text',root,{x:sx(v),y:tickBaseline,'text-anchor':'middle','class':'tick','font-size':fontSize});
    t.textContent=String(v).replace('-','\u2212');
    
    
  });
  yt.forEach(function(v){
    const t=make('text',root,{x:box.l-9,y:sy(v)+yShift,'text-anchor':'end','class':'tick','font-size':fontSize});
    t.textContent=String(v);
    
    
  });
}
function drawTicksAndBorder(root,box,sx,sy,xt,yt,namePrefix){
  const len=8;
  xt.forEach(function(v){
    [[box.b,box.b-len],[box.t,box.t+len]].forEach(function(p){
      const l=make('line',root,{x1:sx(v),x2:sx(v),y1:p[0],y2:p[1],stroke:'#666','stroke-width':2});
      
      
    });
  });
  yt.forEach(function(v){
    [[box.l,box.l+len],[box.r,box.r-len]].forEach(function(p){
      const l=make('line',root,{x1:p[0],x2:p[1],y1:sy(v),y2:sy(v),stroke:'#666','stroke-width':2});
      
      
    });
  });
  const f=make('rect',root,{x:box.l,y:box.t,width:box.r-box.l,height:box.b-box.t,fill:'none',stroke:'#5a5a5a','stroke-width':3});
  
  
}
function bandPath(xs,hi,lo,sx,sy){
  const up=xs.map(function(x,i){return sx(x)+','+sy(hi[i]);});
  const dn=xs.map(function(x,i){return sx(x)+','+sy(lo[i]);}).reverse();
  return up.concat(dn).join(' ');
}
function outlinePath(xs,ys,sx,sy){
  return xs.map(function(x,i){return sx(x)+','+sy(ys[i]);}).join(' ');
}
function jet(t){
  t=Math.max(0,Math.min(1,t));
  const c=function(o){return Math.round(255*Math.max(0,Math.min(1,1.5-Math.abs(4*t-o))));};
  return 'rgb('+c(3)+','+c(2)+','+c(1)+')';
}
function jetValue(v){return jet((v-7.4)/(16.8-7.4));}
function clipFor(root,id,box){
  const cp=make('clipPath',root,{id:id});
  make('rect',cp,{x:box.l,y:box.t,width:box.r-box.l,height:box.b-box.t});
  return 'url(#'+id+')';
}
function band(root,points,fill,opacity,name){
  const p=make('polygon',root,{points:points,fill:fill,'fill-opacity':opacity});
  
  
  return p;
}
function squares(root,pts,size,fillFn,stroke,sw,sx,sy,name){
  pts.forEach(function(p){
    const r=make('rect',root,{x:sx(p[0])-size/2,y:sy(p[1])-size/2,width:size,height:size,fill:fillFn(p),stroke:stroke,'stroke-width':sw});
    
    
  });
}
function dots(root,pts,rad,fill,opacity,sx,sy,name){
  pts.forEach(function(p){
    const c=make('circle',root,{cx:sx(p[0]),cy:sy(p[1]),r:rad,fill:fill,'fill-opacity':opacity});
    
    
  });
}
function refLine(root,x1,y1,x2,y2,color,w,name){
  const l=make('line',root,{x1:x1,y1:y1,x2:x2,y2:y2,stroke:color,'stroke-width':w});
  
  
}

// Panel A
(function(){
  const root=document.getElementById('panel-a');
  const box={l:126,r:962,t:92,b:945};
  const sx=scale(6,18,box.l,box.r),sy=scale(6,18,box.b,box.t);
  drawFrame(root,box,sx,sy,aTicks,aTicks,true,970,6,22,'panel-a');
  const clip=clipFor(root,'clip-a',box);
  const g=make('g',root,{'clip-path':clip});
  const defs=make('defs',root,{});
  const grad=make('linearGradient',defs,{id:'jet-a',gradientUnits:'userSpaceOnUse',x1:sx(7.4),y1:sy(7.4),x2:sx(12.6),y2:sy(12.6)});
  for(let v=7.4;v<=12.6;v+=0.65){
    const s=make('stop',grad,{offset:(v-7.4)/5.2,'stop-color':jetValue(v)});
    
  }
  band(g,bandPath(aBandX,aBandHi,aBandLo,sx,sy),'url(#jet-a)',0.9,'panel-a-dense-cloud');
  band(g,bandPath(aBandX,aBandHi,aBandLo,sx,sy),'#000',0.35,'panel-a-dense-cloud-shade');
  squares(g,aDense.concat(aPoints),10.5,function(p){return jetValue((p[0]+p[1])/2);},'#1a1a1a',1.6,sx,sy,'panel-a-gene-point');
  aFoldOffsets.forEach(function(o){
    refLine(g,sx(6),sy(6+o),sx(18),sy(18+o),'#68c96a',3,'panel-a-fold-line');
  });
  drawTicksAndBorder(root,box,sx,sy,aTicks,aTicks,'panel-a');
})();

// Panel B
(function(){
  const root=document.getElementById('panel-b');
  const box={l:1409,r:2254,t:113,b:946};
  const sx=scale(5,17,box.l,box.r),sy=scale(5,17,box.b,box.t);
  drawFrame(root,box,sx,sy,bTicks,bTicks,false,968,8,23,'panel-b');
  const clip=clipFor(root,'clip-b',box);
  const g=make('g',root,{'clip-path':clip});
  refLine(g,sx(5),sy(6),sx(16),sy(17),'#e0e0e0',1.4,'panel-b-upper-fold-line');
  refLine(g,sx(6),sy(5),sx(17),sy(16),'#e0e0e0',1.4,'panel-b-lower-fold-line');
  band(g,bandPath(bRedBandX,bRedBandHi,bRedBandLo,sx,sy),'#f22',0.8,'panel-b-up-dense');
  band(g,bandPath(bGreenBandX,bGreenBandHi,bGreenBandLo,sx,sy),'#1e1',0.8,'panel-b-down-dense');
  dots(g,bUpDense,3.3,'#f11',1,sx,sy,'panel-b-up-point');
  dots(g,bDownDense,3.3,'#1e1',1,sx,sy,'panel-b-down-point');
  band(g,bandPath(bHaloX,bHaloHi,bHaloLo,sx,sy),'#000',0.45,'panel-b-not-differential-halo');
  band(g,bandPath(bCoreX,bCoreHi,bCoreLo,sx,sy),'#000',1,'panel-b-not-differential-core');
  dots(g,bNotDense,3.2,'#000',0.45,sx,sy,'panel-b-not-differential-point');
  dots(g,bNot,3,'#000',0.42,sx,sy,'panel-b-not-differential-point');
  dots(g,bUp,3.3,'#f11',1,sx,sy,'panel-b-up-point');
  dots(g,bDown,3.3,'#1e1',1,sx,sy,'panel-b-down-point');
  drawTicksAndBorder(root,box,sx,sy,bTicks,bTicks,'panel-b');
})();

// Panel C
(function(){
  const root=document.getElementById('panel-c');
  const box={l:168,r:920,t:1176,b:2155};
  const sx=scale(-2.5,2.5,box.l,box.r),sy=scale(-0.2,10.78,box.b,box.t);
  drawFrame(root,box,sx,sy,cXTicks,cYTicks,true,2178,8,24,'panel-c');
  const clip=clipFor(root,'clip-c',box);
  const g=make('g',root,{'clip-path':clip});
  band(g,outlinePath(cGreyOutlineX,cGreyOutlineY,sx,sy),'#c2c2c2',1,'panel-c-not-significant-cloud');
  squares(g,cNot,23,function(){return '#c0c0c0';},'#999',1.6,sx,sy,'panel-c-not-significant-point');
  band(g,outlinePath(cRedLeftX,cRedLeftY,sx,sy),'#f00',1,'panel-c-left-dense');
  band(g,outlinePath(cRedRightX,cRedRightY,sx,sy),'#f00',1,'panel-c-right-dense');
  squares(g,cUp,23,function(){return '#f00';},'#c40000',1.5,sx,sy,'panel-c-significant-point');
  refLine(g,sx(-0.585),box.t,sx(-0.585),box.b,'#68c96a',3.2,'panel-c-left-threshold');
  refLine(g,sx(0.585),box.t,sx(0.585),box.b,'#68c96a',3.2,'panel-c-right-threshold');
  refLine(g,box.l,sy(1.3),box.r,sy(1.3),'#68c96a',3.2,'panel-c-p-threshold');
  drawTicksAndBorder(root,box,sx,sy,cXTicks,cYTicks,'panel-c');
})();

// Panel D
(function(){
  const root=document.getElementById('panel-d');
  const box={l:1465,r:2223,t:1176,b:2155};
  const sx=scale(-3.5,3.5,box.l,box.r),sy=scale(-0.19,5.9,box.b,box.t);
  drawFrame(root,box,sx,sy,dXTicks,dYTicks,true,2179,6,24,'panel-d');
  const clip=clipFor(root,'clip-d',box);
  const g=make('g',root,{'clip-path':clip});
  band(g,outlinePath(dLeftWingX,dLeftWingY,sx,sy),'#000',1,'panel-d-left-wing');
  band(g,outlinePath(dRightWingX,dRightWingY,sx,sy),'#000',1,'panel-d-right-wing');
  dots(g,dNot,6.2,'#111',0.75,sx,sy,'panel-d-not-differential-point');
  band(g,outlinePath(dGreenBandX,dGreenBandY,sx,sy),'#1e1',1,'panel-d-down-dense');
  band(g,outlinePath(dRedBandX,dRedBandY,sx,sy),'#f22',1,'panel-d-up-dense');
  dots(g,dUp,6.2,'#f22',1,sx,sy,'panel-d-up-point');
  dots(g,dDown,6.2,'#1e1',1,sx,sy,'panel-d-down-point');
  refLine(g,sx(-1),box.t,sx(-1),box.b,'#68c96a',3.2,'panel-d-left-threshold');
  refLine(g,sx(1),box.t,sx(1),box.b,'#68c96a',3.2,'panel-d-right-threshold');
  refLine(g,box.l,sy(1.3),box.r,sy(1.3),'#68c96a',3.2,'panel-d-p-threshold');
  drawTicksAndBorder(root,box,sx,sy,dXTicks,dYTicks,'panel-d');
})();
</script>
</body>
</html>
